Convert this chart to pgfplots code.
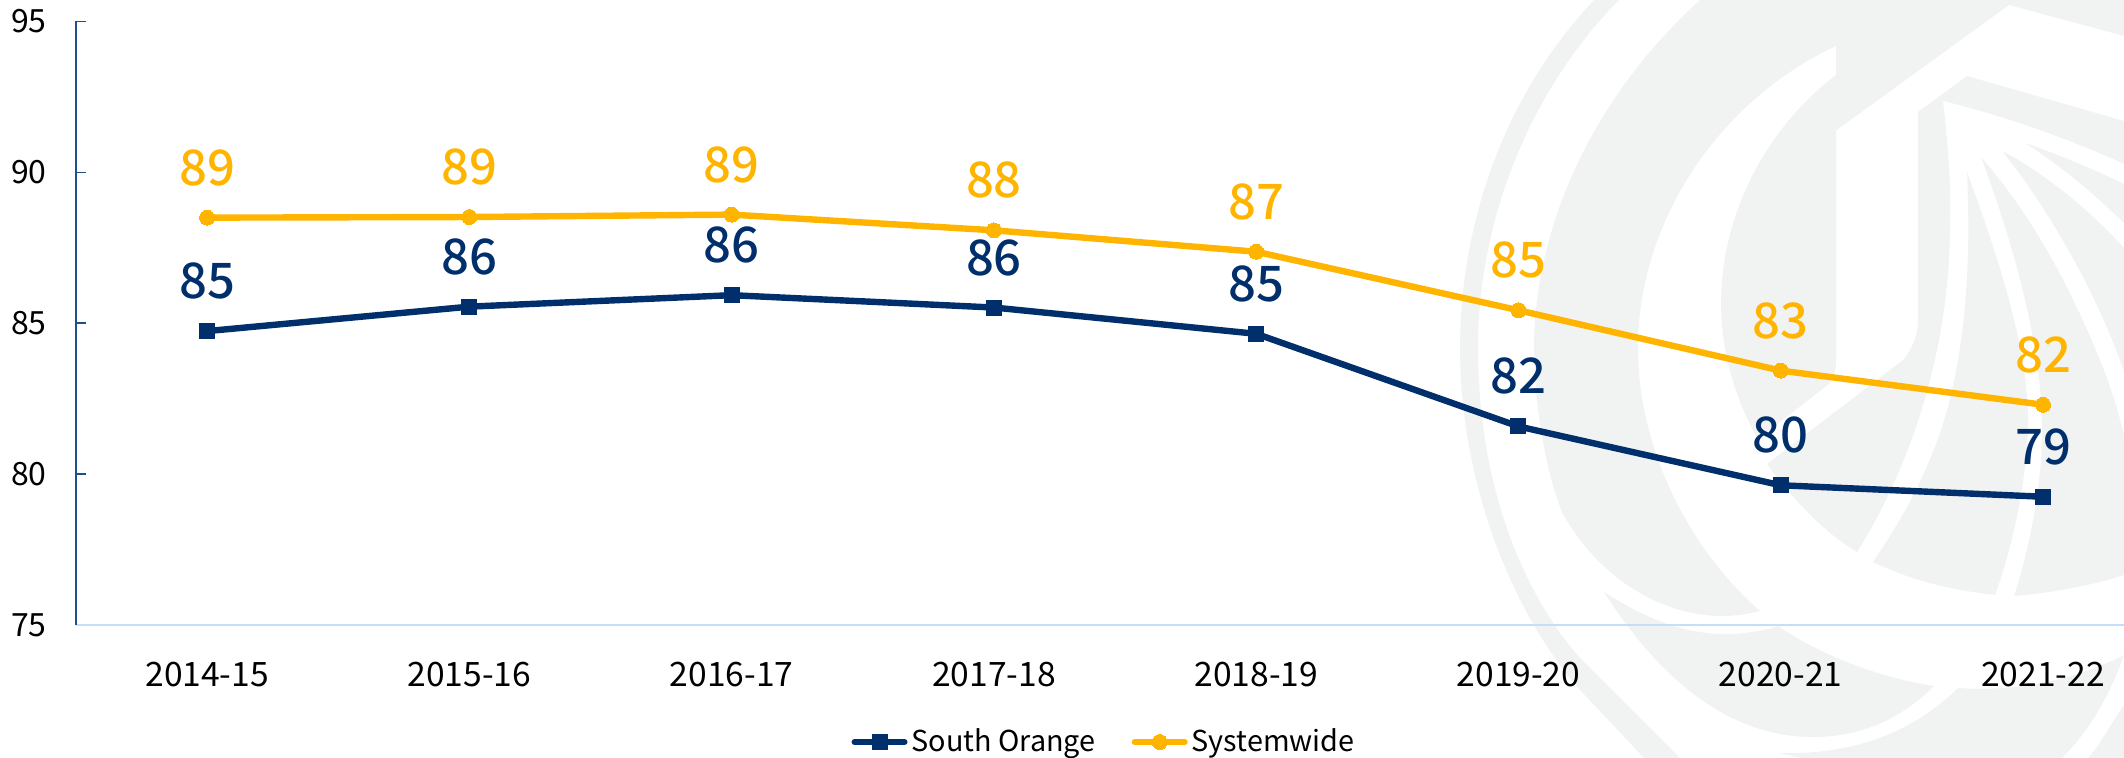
\documentclass[border=0pt]{standalone}
\usepackage{fontspec}
\setmainfont{Noto Sans CJK SC}
\newfontfamily\medfont{Noto Sans CJK SC Medium}
\usepackage{pgfplots}
\usepackage{pgfplotstable}
\pgfplotsset{compat=1.18}
\definecolor{navy}{HTML}{002F6C}
\definecolor{gold}{HTML}{FFB500}
\definecolor{axisnavy}{HTML}{1F4E8C}
\definecolor{axislight}{HTML}{C6DDFB}
\definecolor{wm}{HTML}{F1F2F2}
\pgfplotstableread{
x y lab
0 84.74 85
1 85.55 86
2 85.93 86
3 85.52 86
4 84.65 85
5 81.58 82
6 79.63 80
7 79.25 79
}\southorange
\pgfplotstableread{
x y lab
0 88.50 89
1 88.52 89
2 88.60 89
3 88.08 88
4 87.37 87
5 85.43 85
6 83.43 83
7 82.30 82
}\systemwide
\begin{document}
\begin{tikzpicture}
\useasboundingbox (0,0) rectangle (1062pt,379pt);
\begin{scope}[x=0.5pt,y=-0.5pt,yshift=379pt,fill=wm,draw=none]
% thin outer ring
\fill (1594,0) .. controls (1500,100) and (1460,230) .. (1460,348)
  .. controls (1460,480) and (1510,610) .. (1580,690) -- (1644,758) -- (1680,758) -- (1580,658)
  .. controls (1520,590) and (1478,480) .. (1478,348)
  .. controls (1478,220) and (1530,90) .. (1619,0) -- cycle;
% crescent, top band and inner arc
\fill (1700,0) .. controls (1590,100) and (1534,230) .. (1534,348)
  .. controls (1534,400) and (1545,470) .. (1562,512)
  .. controls (1590,565) and (1650,616) .. (1723,616)
  .. controls (1735,616) and (1748,614) .. (1760,611)
  .. controls (1690,550) and (1638,450) .. (1638,348)
  .. controls (1638,220) and (1720,100) .. (1836,46)
  -- (1836,75)
  .. controls (1770,125) and (1721,210) .. (1721,304)
  .. controls (1721,350) and (1735,400) .. (1758,439)
  -- (1829,384) .. controls (1833,378) and (1836,370) .. (1836,362)
  -- (1836,130.5) -- (2009,5) -- (2124,36) -- (2124,0) -- cycle;
% J band
\fill (1967,76) -- (2124,121) -- (2124,164)
  .. controls (2060,135) and (2000,115) .. (1943,101)
  .. controls (1950,160) and (1951,200) .. (1950,227)
  .. controls (1950,340) and (1915,460) .. (1857,552)
  .. controls (1820,530) and (1790,495) .. (1767,464)
  -- (1903,360) .. controls (1912,350) and (1918,335) .. (1918,320)
  -- (1918,112) -- cycle;
% feathers
\fill (1967,172) .. controls (1970,240) and (1968,300) .. (1958,360)
  .. controls (1945,440) and (1915,500) .. (1873,562)
  .. controls (1910,580) and (1950,590) .. (1995,595)
  .. controls (2015,540) and (2028,470) .. (2028,420)
  .. controls (2028,340) and (1990,235) .. (1967,172) -- cycle;
\fill (1981,157) .. controls (2040,225) and (2075,300) .. (2100,360)
  .. controls (2110,385) and (2118,410) .. (2124,435) -- (2124,575)
  .. controls (2090,586) and (2050,593) .. (2014,596)
  .. controls (2032,540) and (2042,480) .. (2042,430)
  .. controls (2042,340) and (2010,235) .. (1981,157) -- cycle;
\fill (2002,151) .. controls (2040,170) and (2090,210) .. (2124,248) -- (2124,372)
  .. controls (2100,300) and (2050,210) .. (2002,151) -- cycle;
\fill (2025,143) .. controls (2060,155) and (2095,170) .. (2124,184) -- (2124,223)
  .. controls (2095,195) and (2060,165) .. (2025,143) -- cycle;
% bottom band
\fill (1604,592) .. controls (1640,615) and (1680,634) .. (1725,634)
  .. controls (1745,634) and (1762,631) .. (1778,626)
  .. controls (1820,655) and (1880,678) .. (1934,686)
  .. controls (1900,720) and (1860,737) .. (1812,737)
  .. controls (1730,737) and (1660,680) .. (1604,592) -- cycle;
% bottom right
\fill (1958,688) .. controls (2015,692) and (2075,680) .. (2124,655)
  .. controls (2110,695) and (2090,730) .. (2062,758) -- (1802,758) -- (1778,753)
  .. controls (1840,755) and (1905,740) .. (1958,688) -- cycle;
\fill (2124,705) .. controls (2110,725) and (2100,745) .. (2088,758) -- (2124,758) -- cycle;
\end{scope}
\begin{axis}[
  at={(38pt,66.5pt)}, anchor=south west,
  scale only axis, width=1024pt, height=301.75pt,
  xmin=-0.5, xmax=7.3084, ymin=75, ymax=95,
  clip=false,
  axis x line=bottom, axis y line=left,
  x axis line style={-,draw=axislight,line width=1pt},
  y axis line style={-,draw=axisnavy,line width=0.85pt},
  xtick={0,1,2,3,4,5,6,7},
  xticklabels={2014-15,2015-16,2016-17,2017-18,2018-19,2019-20,2020-21,2021-22},
  ytick={75,80,85,90,95},
  xtick style={draw=none},
  ytick style={draw=axisnavy,line width=0.85pt},
  major tick length=5pt, tick align=inside,
  /pgf/number format/assume math mode=true,
  tick label style={font=\fontsize{16pt}{18pt}\selectfont,text=black},
  xticklabel style={anchor=base,yshift=-31pt,font=\fontsize{16.8pt}{18pt}\selectfont},
  yticklabel style={anchor=east,inner xsep=0pt,xshift=-14.5pt,font=\fontsize{16pt}{18pt}\selectfont},
  every axis plot/.append style={line width=3.2pt},
  nodes near coords,
  point meta=explicit symbolic,
  nodes near coords style={anchor=center,yshift=25pt,font=\medfont\fontsize{24.5pt}{28pt}\selectfont},
  legend columns=2,
  legend cell align=left,
  legend style={draw=none,fill=none,at={(0.5025,-0.1939)},anchor=center,
    font=\fontsize{14.4pt}{16pt}\selectfont,
    inner xsep=0pt,inner ysep=0pt,
    nodes={inner xsep=2pt},
    /tikz/every even column/.append style={column sep=16pt}},
  legend image code/.code={%
    \draw[#1,mark repeat=2,mark phase=2,line width=3pt,line cap=round] plot coordinates {(0pt,0pt)(12.5pt,0pt)(25pt,0pt)};},
]
\addplot[color=navy,mark=square*,mark size=3.75pt,mark options={solid,fill=navy,draw=navy,line width=0pt},nodes near coords style={text=navy}]
  table[x=x,y=y,meta=lab] {\southorange};
\addlegendentry{South Orange}
\addplot[color=gold,mark=*,mark size=3.75pt,mark options={solid,fill=gold,draw=gold,line width=0pt},nodes near coords style={text=gold}]
  table[x=x,y=y,meta=lab] {\systemwide};
\addlegendentry{Systemwide}
\end{axis}
\end{tikzpicture}
\end{document}
